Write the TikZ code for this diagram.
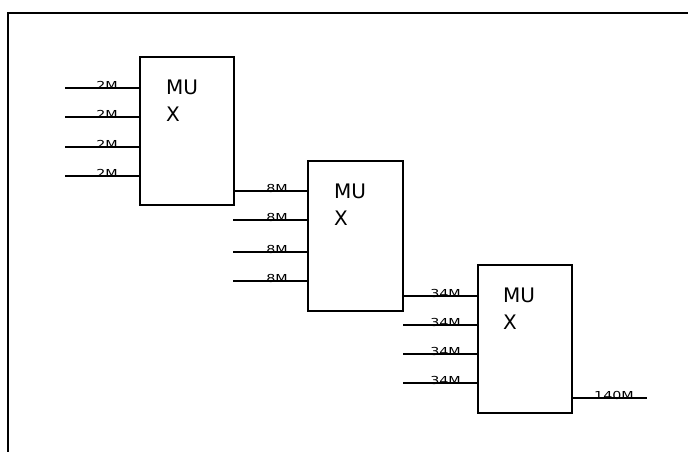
\documentclass[tikz,border=0pt]{standalone}
\usepackage{fontspec}
\setmainfont{DejaVu Sans}
\newfontfamily\labfont[FakeStretch=1.3]{DejaVu Sans}
\begin{document}
\begin{tikzpicture}[x=1pt,y=-1pt,
  wire/.style={line width=1.5pt},
  muxbox/.style={draw,line width=1.5pt,minimum width=#1,inner sep=0pt},
  muxtext/.style={anchor=north west,align=left,inner sep=0pt,font=\fontsize{20}{27}\selectfont},
  lab/.style={anchor=base east,inner sep=0pt,font=\labfont\fontsize{11}{12}\selectfont}]
\useasboundingbox (0,0) rectangle (688,452);
% frame
\coordinate (ftl) at (8,13);
\coordinate (ftr) at (688,13);
\coordinate (fbl) at (8,452);
\draw[line width=1.7pt] (ftr) -- (ftl) -- (fbl);
% boxes
\node[muxbox=94pt,minimum height=148pt] (m1) at (187,131) {};
\node[muxbox=95pt,minimum height=150pt] (m2) at (355.5,236) {};
\node[muxbox=94pt,minimum height=148pt] (m3) at (525,339) {};
\node[muxtext] (t1) at (166,80) {MU\\X};
\node[muxtext] (t2) at (334,184) {MU\\X};
\node[muxtext] (t3) at (503,288) {MU\\X};
% box 1 inputs
\foreach \y [count=\i] in {88,117,147,176}{
  \coordinate (a\i) at (65,\y);
  \draw[wire] (a\i) -- (a\i -| m1.west);
  \node[lab] (la\i) at (118,\y+1.5) {2M};
}
% box 1 -> box 2
\coordinate (o1) at (234,191);
\draw[wire] (o1 -| m1.east) -- (o1 -| m2.west);
\node[lab] (lb1) at (288,192.5) {8M};
\foreach \y [count=\i from 2] in {220,252,281}{
  \coordinate (b\i) at (233,\y);
  \draw[wire] (b\i) -- (b\i -| m2.west);
  \node[lab] (lb\i) at (288,\y+1.5) {8M};
}
% box 2 -> box 3
\coordinate (o2) at (403,296);
\draw[wire] (o2 -| m2.east) -- (o2 -| m3.west);
\node[lab] (lc1) at (461,297.5) {34M};
\foreach \y [count=\i from 2] in {325,354,383}{
  \coordinate (c\i) at (403,\y);
  \draw[wire] (c\i) -- (c\i -| m3.west);
  \node[lab] (lc\i) at (461,\y+1.5) {34M};
}
% output
\coordinate (out) at (647,398);
\draw[wire] (out -| m3.east) -- (out);
\node[lab] (lout) at (634,399.5) {140M};
\end{tikzpicture}
\end{document}
